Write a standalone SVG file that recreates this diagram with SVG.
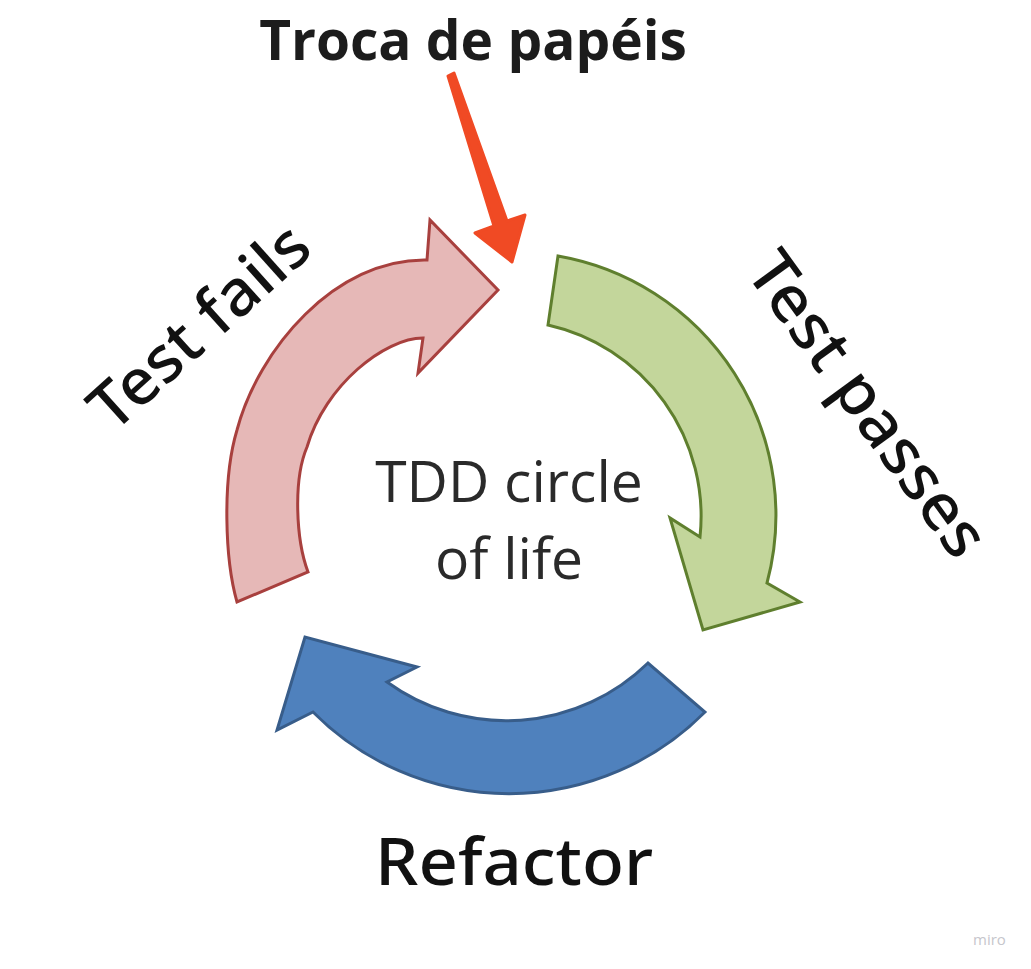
<svg xmlns="http://www.w3.org/2000/svg" width="1031" height="969" viewBox="0 0 1031 969">
  <style>
    .hand { font-family: "Noto Sans", "DejaVu Sans", sans-serif; font-weight: 500; fill: #111111; }
    .center { font-family: "Open Sans", "Noto Sans", sans-serif; fill: #2a2a2a; font-size: 57px; text-anchor: middle; }
    .title { font-family: "Open Sans", "Noto Sans", sans-serif; font-weight: 700; fill: #1c1c1c; font-size: 55px; text-anchor: middle; }
    .arc { stroke-width: 3; stroke-linejoin: miter; }
    .pink { fill: #e6b8b7; stroke: #a8403e; }
    .green { fill: #c3d69b; stroke: #5f7f2e; }
    .blue { fill: #4f81bd; stroke: #385d8a; }
  </style>
  <rect width="1031" height="969" fill="#ffffff"/>

  <g id="title">
    <text class="title" x="473" y="60">Troca de papéis</text>
  </g>

  <g id="center-label">
    <text class="center" x="509" y="502">TDD circle</text>
    <text class="center" x="509" y="579">of life</text>
  </g>

  <g id="test-fails">
    <path class="arc pink" d="M 237,602 C 225,560 222,480 237,430 C 258,350 335,258 427,260 L 430,220 L 498,290 L 418,373 L 423,338 C 385,338 325,385 307,447 C 293,480 296,540 308,572 Z"/>
    <text class="hand" font-size="64" text-anchor="middle" x="214" y="343" transform="rotate(-42 214 343)" textLength="272" lengthAdjust="spacingAndGlyphs">Test fails</text>
  </g>

  <g id="test-passes">
    <path class="arc green" d="M 558,256 A 263 263 0 0 1 767,583 L 800,602 L 703,630 L 670,518 L 700,537 A 196 196 0 0 0 548,325 Z"/>
    <text class="hand" font-size="64" text-anchor="middle" x="850" y="417" transform="rotate(54 850 417)" textLength="360" lengthAdjust="spacingAndGlyphs">Test passes</text>
  </g>

  <g id="refactor">
    <path class="arc blue" d="M 705,712 A 276 276 0 0 1 313,712 L 277,730 L 305,637 L 417,667 L 387,682 A 203 203 0 0 0 648,663 Z"/>
    <text class="hand" font-size="66" text-anchor="middle" x="514" y="885" textLength="278" lengthAdjust="spacingAndGlyphs">Refactor</text>
  </g>

  <g id="connectors">
    <polygon points="448,76 454,73 507,221 525,215 512,262 475,233 494,226" fill="#f04a24" stroke="#f04a24" stroke-width="3" stroke-linejoin="round"/>
  </g>

  <g id="watermark">
    <text x="973" y="945" font-family="Open Sans, Noto Sans, sans-serif" font-size="15" fill="#c6c6cc">miro</text>
  </g>
</svg>
